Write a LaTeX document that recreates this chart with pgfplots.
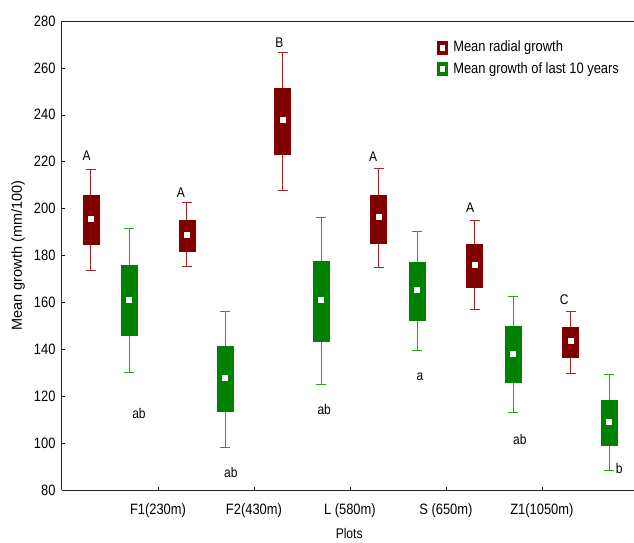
\documentclass[border=0pt]{standalone}
\usepackage{fontspec}
\setmainfont{Liberation Sans}[FakeStretch=0.86]
\newfontfamily\ylabfont{Liberation Sans}
\usepackage{pgfplots}
\pgfplotsset{compat=1.18}
\definecolor{dred}{RGB}{128,0,0}
\definecolor{wred}{RGB}{170,35,35}
\definecolor{dgreen}{RGB}{0,128,0}
\definecolor{wgreen}{RGB}{45,155,45}
\pgfplotsset{
  rbox/.style={forget plot, draw=dred, fill=dred, line width=0.5pt, mark=none},
  gbox/.style={forget plot, draw=dgreen, fill=dgreen, line width=0.5pt, mark=none},
  meanmk/.style={forget plot, only marks, mark=square*, mark size=2.5pt, mark options={fill=white, draw=white, line width=0pt}},
}
\newcommand{\lab}{\fontsize{14}{16}\selectfont}
\begin{document}
\begin{tikzpicture}
\begin{axis}[
  at={(0,0)}, anchor=south west,
  scale only axis, width=572pt, height=469pt,
  xmin=0, xmax=5.96, ymin=80, ymax=280,
  axis lines*=left,
  axis line style={black!85, line width=1pt},
  ytick={80,100,...,280},
  xtick={1,2,3,4,5},
  xticklabels={F1(230m),F2(430m),L (580m),S (650m),Z1(1050m)},
  tick align=inside, major tick length=3pt,
  tick style={black, line width=0.6pt},
  ticklabel style={font=\fontsize{15}{18}\selectfont, text=black},
  /pgf/number format/assume math mode=true,
  yticklabel style={xshift=-3pt},
  xticklabel style={yshift=-10pt},
  xlabel={Plots},
  xlabel style={at={(axis description cs:0.502,-0.0917)}, anchor=center, font=\fontsize{14}{16}\selectfont},
  ylabel={Mean growth (mm/100)},
  ylabel style={at={(axis description cs:-0.0769,0.5)}, anchor=center, font=\ylabfont\fontsize{14.5}{16}\selectfont},
  clip=false,
  unbounded coords=jump,
  legend style={at={(0.655,0.962)}, anchor=north west, draw=none, fill=none,
    font=\fontsize{15}{18}\selectfont, inner sep=0pt, row sep=5pt, column sep=4pt},
  legend cell align=left,
]
% whiskers, Mean radial growth
\addplot[forget plot, wred, line width=1pt, mark=none] coordinates {
 (0.3,173.5) (0.3,216.6) (0.3,nan) (0.248,216.6) (0.352,216.6) (0.3,nan) (0.248,173.5) (0.352,173.5) (0.3,nan)
 (1.3,175.2) (1.3,202.4) (1.3,nan) (1.248,202.4) (1.352,202.4) (1.3,nan) (1.248,175.2) (1.352,175.2) (1.3,nan)
 (2.3,207.9) (2.3,266.6) (2.3,nan) (2.248,266.6) (2.352,266.6) (2.3,nan) (2.248,207.9) (2.352,207.9) (2.3,nan)
 (3.3,174.8) (3.3,217.2) (3.3,nan) (3.248,217.2) (3.352,217.2) (3.3,nan) (3.248,174.8) (3.352,174.8) (3.3,nan)
 (4.3,156.8) (4.3,194.9) (4.3,nan) (4.248,194.9) (4.352,194.9) (4.3,nan) (4.248,156.8) (4.352,156.8) (4.3,nan)
 (5.3,129.8) (5.3,156.3) (5.3,nan) (5.248,156.3) (5.352,156.3) (5.3,nan) (5.248,129.8) (5.352,129.8)
};
% whiskers, Mean growth of last 10 years
\addplot[forget plot, wgreen, line width=1pt, mark=none] coordinates {
 (0.7,130.3) (0.7,191.7) (0.7,nan) (0.648,191.7) (0.752,191.7) (0.7,nan) (0.648,130.3) (0.752,130.3) (0.7,nan)
 (1.7,98.2) (1.7,156.2) (1.7,nan) (1.648,156.2) (1.752,156.2) (1.7,nan) (1.648,98.2) (1.752,98.2) (1.7,nan)
 (2.7,125.2) (2.7,196.4) (2.7,nan) (2.648,196.4) (2.752,196.4) (2.7,nan) (2.648,125.2) (2.752,125.2) (2.7,nan)
 (3.7,139.7) (3.7,190.2) (3.7,nan) (3.648,190.2) (3.752,190.2) (3.7,nan) (3.648,139.7) (3.752,139.7) (3.7,nan)
 (4.7,113.1) (4.7,162.7) (4.7,nan) (4.648,162.7) (4.752,162.7) (4.7,nan) (4.648,113.1) (4.752,113.1) (4.7,nan)
 (5.7,88.4) (5.7,129.2) (5.7,nan) (5.648,129.2) (5.752,129.2) (5.7,nan) (5.648,88.4) (5.752,88.4)
};
% boxes (lower quartile to upper quartile), red
\addplot[rbox] coordinates {(0.2167,184.8) (0.3833,184.8) (0.3833,205.9) (0.2167,205.9)} -- cycle;
\addplot[rbox] coordinates {(1.2167,182.0) (1.3833,182.0) (1.3833,195.0) (1.2167,195.0)} -- cycle;
\addplot[rbox] coordinates {(2.2167,223.3) (2.3833,223.3) (2.3833,251.3) (2.2167,251.3)} -- cycle;
\addplot[rbox] coordinates {(3.2167,185.3) (3.3833,185.3) (3.3833,205.9) (3.2167,205.9)} -- cycle;
\addplot[rbox] coordinates {(4.2167,166.4) (4.3833,166.4) (4.3833,185.0) (4.2167,185.0)} -- cycle;
\addplot[rbox] coordinates {(5.2167,136.6) (5.3833,136.6) (5.3833,149.5) (5.2167,149.5)} -- cycle;
% boxes, green
\addplot[gbox] coordinates {(0.6167,146.2) (0.7833,146.2) (0.7833,175.9) (0.6167,175.9)} -- cycle;
\addplot[gbox] coordinates {(1.6167,113.6) (1.7833,113.6) (1.7833,141.4) (1.6167,141.4)} -- cycle;
\addplot[gbox] coordinates {(2.6167,143.5) (2.7833,143.5) (2.7833,177.7) (2.6167,177.7)} -- cycle;
\addplot[gbox] coordinates {(3.6167,152.5) (3.7833,152.5) (3.7833,177.1) (3.6167,177.1)} -- cycle;
\addplot[gbox] coordinates {(4.6167,126.1) (4.7833,126.1) (4.7833,149.9) (4.6167,149.9)} -- cycle;
\addplot[gbox] coordinates {(5.6167,99.2) (5.7833,99.2) (5.7833,118.4) (5.6167,118.4)} -- cycle;
% means
\addplot[meanmk] coordinates {(0.3,195.6) (1.3,188.7) (2.3,237.6) (3.3,196.3) (4.3,176.1) (5.3,143.4)};
\addplot[meanmk] coordinates {(0.7,161.2) (1.7,127.8) (2.7,161.2) (3.7,165.2) (4.7,138.1) (5.7,108.9)};

\addlegendimage{legend image code/.code={\fill[dred] (0pt,-6.5pt) rectangle (10pt,6.5pt); \fill[white] (3pt,-2.5pt) rectangle (7pt,2.5pt);}}
\addlegendentry{Mean radial growth}
\addlegendimage{legend image code/.code={\fill[dgreen] (0pt,-6.5pt) rectangle (10pt,6.5pt); \fill[white] (3pt,-2.5pt) rectangle (7pt,2.5pt);}}
\addlegendentry{Mean growth of last 10 years}

\draw[black!85, line width=1pt] (rel axis cs:0,1) -- (rel axis cs:1,1);

\node[font=\lab] at (axis cs:0.257,222.4) {A};
\node[font=\lab] at (axis cs:1.24,206.8) {A};
\node[font=\lab] at (axis cs:2.264,270.75) {B};
\node[font=\lab] at (axis cs:3.243,222.2) {A};
\node[font=\lab] at (axis cs:4.253,200.6) {A};
\node[font=\lab] at (axis cs:5.232,161.0) {C};
\node[font=\lab] at (axis cs:0.802,112.5) {ab};
\node[font=\lab] at (axis cs:1.76,87.4) {ab};
\node[font=\lab] at (axis cs:2.732,114.4) {ab};
\node[font=\lab] at (axis cs:3.729,128.1) {a};
\node[font=\lab] at (axis cs:4.771,101.6) {ab};
\node[font=\lab] at (axis cs:5.805,89.0) {b};
\end{axis}
\pgfresetboundingbox
\path[use as bounding box] (-62pt,-52pt) rectangle (572pt,490pt);
\end{tikzpicture}
\end{document}
